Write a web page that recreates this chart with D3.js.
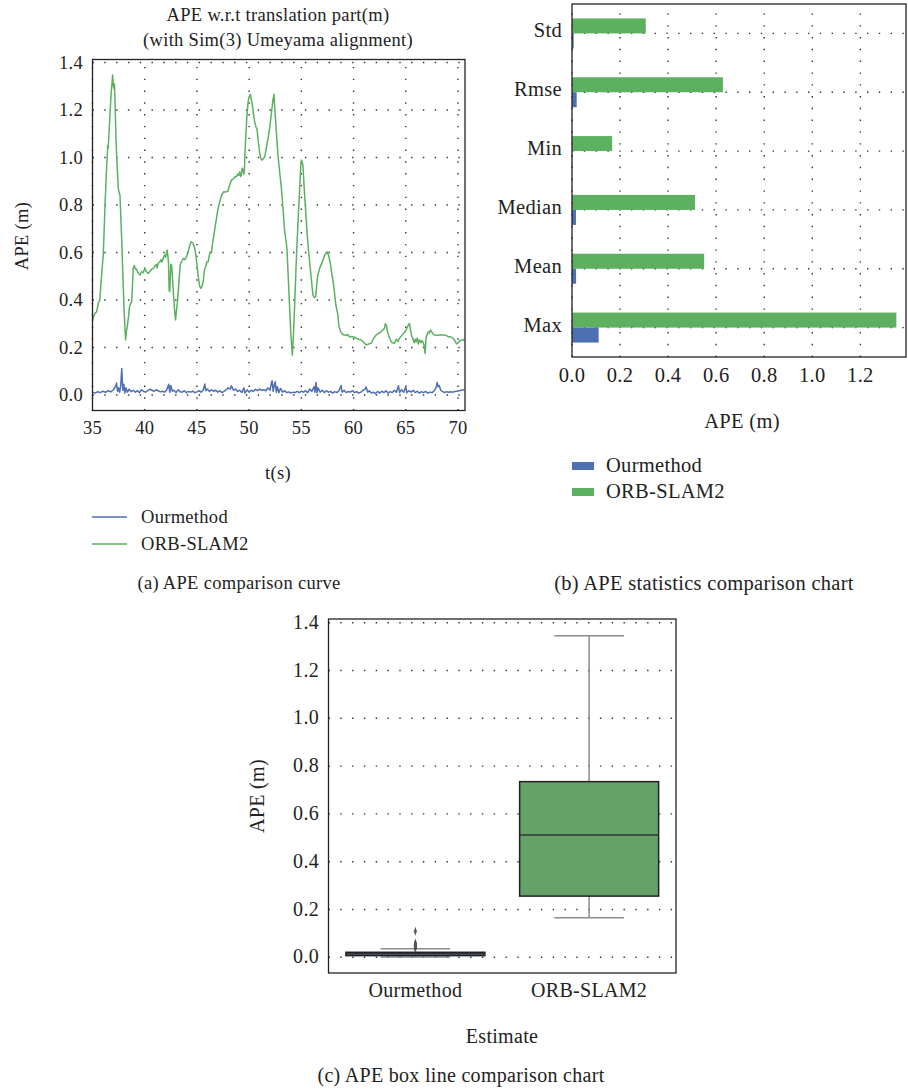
<!DOCTYPE html>
<html>
  <head>
    <style>
      body {
        margin: 0;
        background: #fff;
      }
      svg {
        display: block;
      }
      text {
        font-family: "Liberation Serif", "Times New Roman", serif;
        fill: #222;
        letter-spacing: 0.3px;
      }
      .fa { font-size: 18.5px; }
      .fb { font-size: 20.5px; }
      .fc { font-size: 20px; }
      .frame {
        fill: none;
        stroke: #222;
        stroke-width: 1.3px;
      }
      .grid line {
        stroke: #333;
        stroke-width: 1.4px;
        stroke-dasharray: 1.4, 10.4;
      }
    </style>
  </head>
  <body>
    <script src="https://d3js.org/d3.v7.min.js"></script>
    <script>
      // ---- data ----
      const seriesNames = ["Ourmethod", "ORB-SLAM2"];
      const seriesColors = ["#4f6fb3", "#5cb05f"];

      // (a) APE over time, [t (s), APE (m)]
      const oursCurve = [
        [35.0,.012],[35.25,.008],[35.5,.014],[35.75,.010],[36.0,.016],[36.25,.011],[36.5,.018],[36.75,.013],
        [37.0,.022],[37.2,.035],[37.3,.050],[37.4,.015],[37.5,.030],[37.6,.012],[37.7,.040],[37.8,.112],
        [37.9,.020],[38.0,.045],[38.1,.008],[38.2,.030],[38.35,.012],[38.5,.025],[38.7,.014],[38.9,.020],
        [39.1,.012],[39.3,.018],[39.5,.010],[39.7,.022],[39.9,.015],[40.1,.012],[40.3,.019],[40.5,.024],
        [40.7,.020],[40.9,.016],[41.1,.022],[41.3,.018],[41.5,.013],[41.7,.016],[41.9,.012],[42.1,.020],
        [42.3,.045],[42.4,.012],[42.5,.040],[42.65,.016],[42.8,.020],[43.0,.010],[43.2,.022],[43.4,.014],
        [43.6,.012],[43.8,.018],[44.0,.010],[44.2,.015],[44.4,.012],[44.6,.016],[44.8,.010],[45.0,.013],
        [45.2,.018],[45.4,.012],[45.6,.020],[45.75,.046],[45.85,.018],[46.0,.025],[46.2,.015],[46.4,.022],
        [46.6,.016],[46.8,.020],[47.0,.012],[47.2,.018],[47.4,.010],[47.6,.015],[47.8,.022],[48.0,.030],
        [48.2,.025],[48.3,.039],[48.5,.020],[48.7,.025],[48.9,.015],[49.1,.020],[49.3,.010],[49.5,.030],
        [49.6,.008],[49.8,.022],[50.0,.012],[50.2,.020],[50.4,.015],[50.6,.024],[50.8,.018],[51.0,.025],
        [51.2,.020],[51.4,.022],[51.6,.018],[51.8,.030],[52.0,.020],[52.1,.045],[52.2,.060],[52.3,.015],
        [52.4,.040],[52.5,.056],[52.6,.012],[52.7,.035],[52.85,.010],[53.0,.028],[53.2,.012],[53.4,.018],
        [53.6,.010],[53.8,.013],[54.0,.008],[54.2,.012],[54.4,.010],[54.6,.015],[54.8,.010],[55.0,.016],
        [55.2,.012],[55.4,.018],[55.6,.010],[55.8,.025],[56.0,.015],[56.2,.035],[56.3,.012],[56.4,.053],
        [56.5,.010],[56.6,.030],[56.8,.012],[57.0,.020],[57.2,.010],[57.4,.018],[57.6,.012],[57.8,.015],
        [58.0,.008],[58.2,.014],[58.4,.010],[58.6,.018],[58.8,.040],[58.9,.012],[59.1,.020],[59.3,.010],
        [59.5,.015],[59.7,.012],[59.9,.018],[60.1,.010],[60.3,.014],[60.5,.008],[60.7,.012],[60.9,.020],
        [61.1,.025],[61.2,.034],[61.35,.012],[61.5,.018],[61.7,.008],[61.9,.012],[62.1,.006],[62.3,.015],
        [62.5,.008],[62.7,.016],[62.9,.010],[63.1,.018],[63.3,.008],[63.5,.014],[63.7,.010],[63.9,.020],
        [64.1,.012],[64.3,.039],[64.4,.010],[64.6,.022],[64.8,.012],[65.0,.034],[65.1,.010],[65.3,.018],
        [65.5,.012],[65.7,.020],[65.9,.010],[66.1,.016],[66.3,.008],[66.5,.014],[66.7,.010],[66.9,.015],
        [67.1,.008],[67.3,.012],[67.5,.010],[67.7,.016],[67.9,.030],[68.0,.053],[68.1,.035],[68.2,.040],
        [68.35,.020],[68.5,.015],[68.7,.010],[68.9,.014],[69.1,.012],[69.3,.014],[69.5,.012],[69.7,.015],
        [69.9,.016],[70.1,.018],[70.3,.020],[70.62,.022]
      ];
      const orbCurve = [
        [35.0,.31],[35.1,.33],[35.25,.345],[35.4,.35],[35.55,.385],[35.7,.40],[35.78,.45],[35.9,.52],
        [36.03,.59],[36.2,.80],[36.35,.96],[36.42,1.01],[36.45,1.05],[36.5,1.04],[36.6,1.12],[36.67,1.18],
        [36.8,1.28],[36.93,1.347],[36.97,1.32],[37.0,1.30],[37.05,1.29],[37.1,1.31],[37.15,1.25],[37.25,1.08],
        [37.35,.97],[37.47,.87],[37.55,.85],[37.63,.842],[37.8,.65],[37.95,.449],[38.05,.33],[38.17,.232],
        [38.25,.27],[38.33,.288],[38.45,.33],[38.52,.365],[38.6,.38],[38.75,.393],[38.85,.48],[38.9,.533],
        [39.0,.545],[39.1,.53],[39.16,.533],[39.3,.52],[39.45,.51],[39.54,.505],[39.7,.52],[39.85,.515],
        [40.02,.533],[40.15,.52],[40.33,.512],[40.5,.52],[40.65,.53],[40.81,.533],[40.95,.54],[41.1,.55],
        [41.2,.535],[41.29,.555],[41.45,.56],[41.55,.57],[41.65,.56],[41.77,.576],[41.9,.59],[42.0,.58],
        [42.15,.61],[42.22,.585],[42.28,.555],[42.34,.44],[42.4,.435],[42.5,.55],[42.57,.547],[42.65,.50],
        [42.72,.449],[42.85,.36],[42.95,.316],[43.05,.36],[43.14,.393],[43.3,.49],[43.4,.55],[43.53,.561],
        [43.7,.575],[43.85,.57],[44.0,.582],[44.15,.60],[44.32,.632],[44.45,.645],[44.64,.639],[44.78,.62],
        [44.9,.589],[45.0,.55],[45.11,.505],[45.25,.46],[45.37,.449],[45.5,.46],[45.6,.477],[45.7,.52],
        [45.76,.533],[45.85,.54],[45.95,.56],[46.07,.561],[46.15,.58],[46.25,.60],[46.4,.603],[46.5,.64],
        [46.6,.667],[46.75,.71],[46.87,.744],[47.0,.78],[47.19,.814],[47.35,.84],[47.57,.856],[47.75,.855],
        [47.98,.859],[48.1,.88],[48.3,.905],[48.5,.91],[48.65,.92],[48.78,.919],[48.9,.93],[49.0,.925],
        [49.1,.94],[49.18,.92],[49.26,.926],[49.33,.955],[49.42,.947],[49.5,.93],[49.55,.95],[49.6,1.02],
        [49.67,1.08],[49.78,1.17],[49.9,1.235],[50.0,1.255],[50.12,1.266],[50.2,1.245],[50.31,1.221],[50.42,1.18],
        [50.53,1.151],[50.65,1.13],[50.76,1.116],[50.9,1.06],[51.01,1.018],[51.12,.995],[51.23,.989],[51.35,.995],
        [51.49,1.003],[51.65,1.04],[51.81,1.081],[51.98,1.13],[52.13,1.186],[52.27,1.24],[52.38,1.266],[52.45,1.21],
        [52.54,1.151],[52.65,1.08],[52.76,1.01],[52.92,.94],[53.09,.87],[53.25,.78],[53.4,.688],[53.5,.66],
        [53.62,.618],[53.75,.49],[53.88,.365],[54.0,.25],[54.14,.168],[54.25,.26],[54.36,.379],[54.5,.55],
        [54.68,.73],[54.85,.88],[54.95,.97],[55.0,.989],[55.08,.98],[55.15,.968],[55.3,.85],[55.48,.73],
        [55.62,.64],[55.79,.561],[55.95,.49],[56.11,.421],[56.25,.41],[56.37,.414],[56.55,.50],[56.75,.533],
        [56.9,.55],[57.07,.568],[57.25,.59],[57.45,.603],[57.6,.59],[57.77,.555],[57.92,.51],[58.09,.463],
        [58.3,.38],[58.5,.337],[58.6,.29],[58.76,.267],[58.95,.255],[59.14,.253],[59.3,.25],[59.45,.255],
        [59.6,.245],[59.78,.246],[60.0,.245],[60.26,.239],[60.5,.235],[60.74,.232],[61.0,.22],[61.21,.211],
        [61.45,.215],[61.69,.218],[61.95,.24],[62.17,.253],[62.4,.26],[62.6,.265],[62.8,.274],[62.95,.28],
        [63.05,.30],[63.13,.295],[63.2,.28],[63.28,.26],[63.45,.24],[63.6,.224],[63.75,.22],[63.92,.218],
        [64.1,.235],[64.25,.225],[64.4,.239],[64.6,.25],[64.8,.26],[64.94,.267],[65.1,.28],[65.25,.295],
        [65.35,.302],[65.45,.275],[65.55,.25],[65.67,.239],[65.8,.22],[65.9,.235],[65.99,.224],[66.1,.24],
        [66.2,.215],[66.31,.232],[66.45,.22],[66.55,.23],[66.63,.224],[66.75,.21],[66.85,.175],[66.9,.21],
        [66.95,.245],[67.04,.253],[67.15,.265],[67.25,.26],[67.36,.274],[67.5,.265],[67.6,.258],[67.74,.253],
        [68.0,.252],[68.35,.253],[68.7,.253],[68.9,.25],[69.1,.245],[69.3,.245],[69.49,.239],[69.6,.235],
        [69.75,.225],[69.85,.215],[69.97,.218],[70.1,.225],[70.3,.232],[70.45,.23],[70.62,.235]
      ];
      const timeTicks = [35, 40, 45, 50, 55, 60, 65, 70];
      const apeTicks = [0, 0.2, 0.4, 0.6, 0.8, 1.0, 1.2, 1.4];

      // (b) statistics
      const statCategories = ["Std", "Rmse", "Min", "Median", "Mean", "Max"];
      const oursStats = [0.007, 0.0195, 0.001, 0.0165, 0.017, 0.111];
      const orbStats = [0.307, 0.628, 0.167, 0.512, 0.55, 1.35];
      const statTicks = [0, 0.2, 0.4, 0.6, 0.8, 1.0, 1.2];

      // (c) box plot summaries: [low whisker, q1, median, q3, high whisker]
      const boxNames = ["Ourmethod", "ORB-SLAM2"];
      const oursBox = [0.001, 0.007, 0.015, 0.021, 0.036];
      const orbBox = [0.166, 0.256, 0.512, 0.735, 1.345];
      const oursOutliers = [0.039, 0.041, 0.043, 0.045, 0.047, 0.049, 0.051, 0.053, 0.056, 0.06, 0.109];
      const boxFills = ["#5875a4", "#64a26a"];

      const fmt = d3.format(".1f");

      const svg = d3.select("body").append("svg")
          .attr("width", 908)
          .attr("height", 1090);

      function grid(g, xs, ys, x, y, x0, x1, y0, y1){
        const gg = g.append("g").attr("class", "grid");
        gg.selectAll(".gx").data(xs).join("line")
            .attr("x1", d => x(d)).attr("x2", d => x(d))
            .attr("y1", y1).attr("y2", y0);
        gg.selectAll(".gy").data(ys).join("line")
            .attr("class", "gy")
            .attr("x1", x0).attr("x2", x1)
            .attr("y1", d => y(d)).attr("y2", d => y(d));
      }

      // ---------- (a) curve ----------
      {
        const left = 92.5, right = 465, top = 59.5, bottom = 410.5;
        const x = d3.scaleLinear().domain([35, 70.67]).range([left, right]);
        const y = d3.scaleLinear().domain([0, 1.4]).range([395, 62.5]);
        const g = svg.append("g");

        grid(g, timeTicks, apeTicks, x, y, left, right, top, bottom);

        g.append("clipPath").attr("id", "clipA")
          .append("rect").attr("x", left).attr("y", top)
            .attr("width", right - left).attr("height", bottom - top);

        const line = d3.line().x(d => x(d[0])).y(d => y(d[1]));
        [orbCurve, oursCurve].forEach((data, i) => {
          g.append("path")
              .attr("clip-path", "url(#clipA)")
              .attr("d", line(data))
              .attr("fill", "none")
              .attr("stroke", seriesColors[1 - i])
              .attr("stroke-width", 1.5)
              .attr("stroke-linejoin", "round");
        });

        g.append("rect").attr("class", "frame")
            .attr("x", left).attr("y", top)
            .attr("width", right - left).attr("height", bottom - top);

        g.selectAll(".ytl").data(apeTicks).join("text")
            .attr("class", "fa")
            .attr("x", 83).attr("y", d => y(d) + 6)
            .attr("text-anchor", "end")
            .text(fmt);
        g.selectAll(".xtl").data(timeTicks).join("text")
            .attr("class", "fa")
            .attr("x", d => x(d)).attr("y", 434)
            .attr("text-anchor", "middle")
            .text(d => d);

        g.append("text").attr("class", "fa")
            .attr("transform", "translate(28,236) rotate(-90)")
            .attr("text-anchor", "middle")
            .text("APE (m)");
        g.append("text").attr("class", "fa").attr("x", 278).attr("y", 479)
            .attr("text-anchor", "middle").text("t(s)");
        g.append("text").attr("class", "fa").attr("x", 278).attr("y", 21)
            .attr("text-anchor", "middle")
            .text("APE w.r.t translation part(m)");
        g.append("text").attr("class", "fa").attr("x", 278).attr("y", 46)
            .attr("text-anchor", "middle")
            .text("(with Sim(3) Umeyama alignment)");

        seriesNames.forEach((name, i) => {
          const yy = 517 + i * 27;
          g.append("line")
              .attr("x1", 92).attr("x2", 127).attr("y1", yy).attr("y2", yy)
              .attr("stroke", seriesColors[i]).attr("stroke-width", 1.4);
          g.append("text").attr("class", "fa").attr("x", 141).attr("y", yy + 6)
              .text(name);
        });

        g.append("text").attr("class", "fa").attr("x", 239).attr("y", 589)
            .attr("text-anchor", "middle")
            .text("(a) APE comparison curve");
      }

      // ---------- (b) statistics bars ----------
      {
        const left = 572, right = 906, top = 4, bottom = 357;
        const x = d3.scaleLinear().domain([0, 1.39]).range([left, right]);
        const y = d3.scalePoint().domain(statCategories).range([top, bottom]).padding(0.5);
        const g = svg.append("g");
        const bh = 15;

        grid(g, statTicks, statCategories, x, y, left, right, top, bottom);

        g.selectAll(".orb").data(orbStats).join("rect")
            .attr("x", x(0)).attr("y", (d, i) => y(statCategories[i]) - bh)
            .attr("width", d => x(d) - x(0)).attr("height", bh)
            .attr("fill", seriesColors[1]);
        g.selectAll(".ours").data(oursStats).join("rect")
            .attr("x", x(0)).attr("y", (d, i) => y(statCategories[i]))
            .attr("width", d => x(d) - x(0)).attr("height", bh)
            .attr("fill", seriesColors[0]);

        g.append("rect").attr("class", "frame")
            .attr("x", left).attr("y", top)
            .attr("width", right - left).attr("height", bottom - top);

        g.selectAll(".ytl").data(statCategories).join("text")
            .attr("class", "fb")
            .attr("x", 562).attr("y", d => y(d) + 4)
            .attr("text-anchor", "end")
            .text(d => d);
        g.selectAll(".xtl").data(statTicks).join("text")
            .attr("class", "fb")
            .attr("x", d => x(d)).attr("y", 382)
            .attr("text-anchor", "middle")
            .text(fmt);
        g.append("text").attr("class", "fb").attr("x", 742).attr("y", 428)
            .attr("text-anchor", "middle").text("APE (m)");

        seriesNames.forEach((name, i) => {
          const yy = 466 + i * 26;
          g.append("rect")
              .attr("x", 572).attr("y", yy - 4).attr("width", 22).attr("height", 8)
              .attr("fill", seriesColors[i]);
          g.append("text").attr("class", "fb").attr("x", 606).attr("y", yy + 6)
              .text(name);
        });

        g.append("text").attr("class", "fb").attr("x", 704).attr("y", 590)
            .attr("text-anchor", "middle")
            .text("(b) APE statistics comparison chart");
      }

      // ---------- (c) box plot ----------
      {
        const left = 328.5, right = 676, top = 619, bottom = 973;
        const x = d3.scaleBand().domain(boxNames).range([left, right]);
        const y = d3.scaleLinear().domain([0, 1.4]).range([957.3, 622.7]);
        const g = svg.append("g");
        const bw = x.bandwidth() * 0.8;

        const gg = g.append("g").attr("class", "grid");
        gg.selectAll("line").data(apeTicks).join("line")
            .attr("x1", left).attr("x2", right)
            .attr("y1", d => y(d)).attr("y2", d => y(d));

        [oursBox, orbBox].forEach((b, i) => {
          const cx = x(boxNames[i]) + x.bandwidth() / 2;
          const bg = g.append("g");
          // whiskers
          bg.append("line")
              .attr("x1", cx).attr("x2", cx).attr("y1", y(b[0])).attr("y2", y(b[1]))
              .attr("stroke", "#8c8c8c").attr("stroke-width", 1.5);
          bg.append("line")
              .attr("x1", cx).attr("x2", cx).attr("y1", y(b[3])).attr("y2", y(b[4]))
              .attr("stroke", "#8c8c8c").attr("stroke-width", 1.5);
          [b[0], b[4]].forEach(v => {
            bg.append("line")
                .attr("x1", cx - bw / 4).attr("x2", cx + bw / 4)
                .attr("y1", y(v)).attr("y2", y(v))
                .attr("stroke", "#8c8c8c").attr("stroke-width", 1.5);
          });
          bg.append("rect")
              .attr("x", cx - bw / 2).attr("y", y(b[3]))
              .attr("width", bw).attr("height", y(b[1]) - y(b[3]))
              .attr("fill", boxFills[i])
              .attr("stroke", "#222").attr("stroke-width", 1.5);
          bg.append("line")
              .attr("x1", cx - bw / 2).attr("x2", cx + bw / 2)
              .attr("y1", y(b[2])).attr("y2", y(b[2]))
              .attr("stroke", "#333").attr("stroke-width", 1.5);
        });

        const cx0 = x(boxNames[0]) + x.bandwidth() / 2;
        g.selectAll(".outlier").data(oursOutliers).join("path")
            .attr("d", d3.symbol(d3.symbolDiamond, 14))
            .attr("transform", d => `translate(${cx0},${y(d)}) scale(0.75,1.3)`)
            .attr("fill", "#555");

        g.append("rect").attr("class", "frame")
            .attr("x", left).attr("y", top)
            .attr("width", right - left).attr("height", bottom - top);

        g.selectAll(".ytl").data(apeTicks).join("text")
            .attr("class", "fc")
            .attr("x", 319).attr("y", d => y(d) + 6)
            .attr("text-anchor", "end")
            .text(fmt);
        g.selectAll(".xtl").data(boxNames).join("text")
            .attr("class", "fc")
            .attr("x", d => x(d) + x.bandwidth() / 2).attr("y", 997)
            .attr("text-anchor", "middle")
            .text(d => d);
        g.append("text").attr("class", "fc")
            .attr("transform", "translate(264,796) rotate(-90)")
            .attr("text-anchor", "middle")
            .text("APE (m)");
        g.append("text").attr("class", "fc").attr("x", 502).attr("y", 1043)
            .attr("text-anchor", "middle").text("Estimate");
        g.append("text").attr("class", "fc").attr("x", 461).attr("y", 1082)
            .attr("text-anchor", "middle")
            .text("(c) APE box line comparison chart");
      }
    </script>
  </body>
</html>
